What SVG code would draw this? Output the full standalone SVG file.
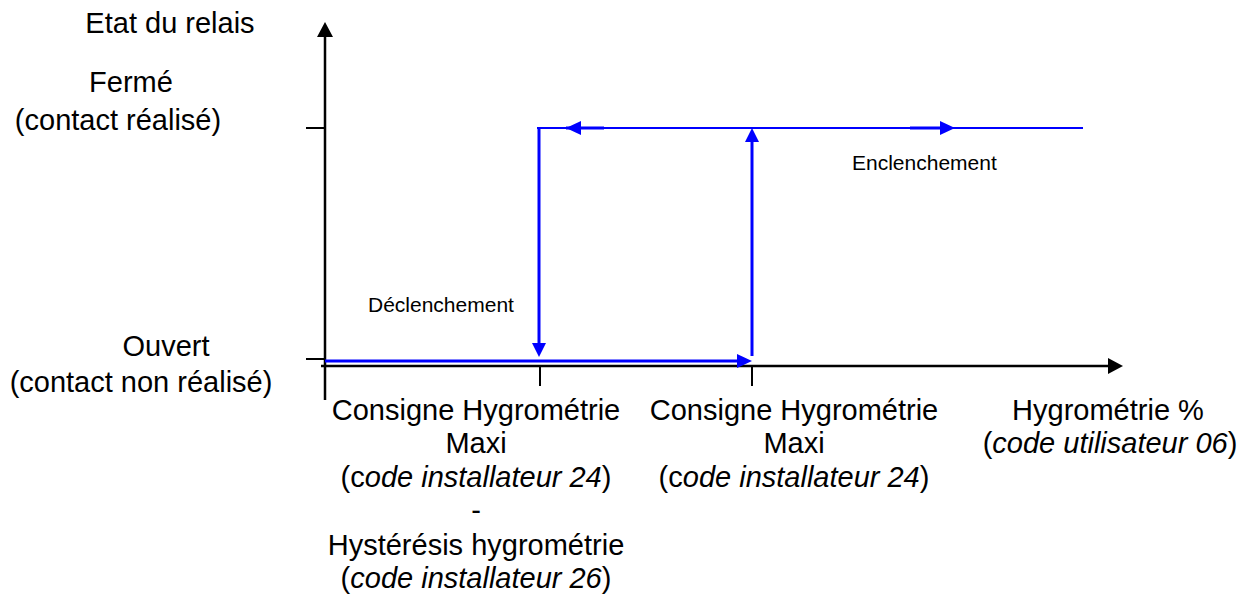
<svg xmlns="http://www.w3.org/2000/svg" width="1255" height="594" viewBox="0 0 1255 594">
<style>
text{font-family:"Liberation Sans",Arial,sans-serif;fill:#000}
.big{font-size:29px;text-anchor:middle}
.small{font-size:21px}
.ax{stroke:#000;stroke-width:2.5;fill:none}
.tk{stroke:#000;stroke-width:2;fill:none}
.bl{stroke:#0000FF;fill:none}
.ah{fill:#0000FF}
.it{font-style:italic}
</style>
<rect width="1255" height="594" fill="#fff"/>
<g id="axes">
<line class="ax" x1="325" y1="400" x2="325" y2="34"/>
<polygon points="325,22 317,37 333,37" fill="#000"/>
<line class="ax" x1="321" y1="366" x2="1110" y2="366"/>
<polygon points="1123,366 1108,358 1108,374" fill="#000"/>
<line class="tk" x1="306" y1="128" x2="325" y2="128"/>
<line class="tk" x1="306" y1="359" x2="325" y2="359"/>
<line class="tk" x1="540" y1="366" x2="540" y2="386"/>
<line class="tk" x1="752" y1="366" x2="752" y2="386"/>
</g>
<g id="connectors">
<line class="bl" stroke-width="2" x1="537" y1="128" x2="1083" y2="128"/>
<line class="bl" stroke-width="3" x1="566" y1="128" x2="604" y2="128"/>
<line class="bl" stroke-width="3" x1="910" y1="128" x2="945" y2="128"/>
<polygon class="ah" points="566,128 581,121 581,135"/>
<polygon class="ah" points="955,128 940,121 940,135"/>
<line class="bl" stroke-width="3" x1="539" y1="128" x2="539" y2="345"/>
<polygon class="ah" points="539,357 532,343 546,343"/>
<line class="bl" stroke-width="3" x1="752" y1="356" x2="752" y2="140"/>
<polygon class="ah" points="752,128 745,142 759,142"/>
<line class="bl" stroke-width="3" x1="325" y1="361" x2="740" y2="361"/>
<polygon class="ah" points="752,361 737,354 737,368"/>
</g>
<g id="label-etat"><text class="big" x="170" y="33">Etat du relais</text></g>
<g id="label-ferme">
<text class="big" x="131" y="92">Fermé</text>
<text class="big" x="118" y="130">(contact réalisé)</text>
</g>
<g id="label-ouvert">
<text class="big" x="166" y="356">Ouvert</text>
<text class="big" x="141" y="392">(contact non réalisé)</text>
</g>
<g id="label-enclenchement"><text class="small" x="852" y="170">Enclenchement</text></g>
<g id="label-declenchement"><text class="small" x="368" y="312">Déclenchement</text></g>
<g id="label-consigne-hyst">
<text class="big" x="476" y="420">Consigne Hygrométrie</text>
<text class="big" x="476" y="453">Maxi</text>
<text class="big" x="476" y="487">(c<tspan class="it">ode installateur 24</tspan>)</text>
<text class="big" x="476" y="520">-</text>
<text class="big" x="476" y="555">Hystérésis hygrométrie</text>
<text class="big" x="476" y="588">(<tspan class="it">code installateur 26</tspan>)</text>
</g>
<g id="label-consigne">
<text class="big" x="794" y="420">Consigne Hygrométrie</text>
<text class="big" x="794" y="453">Maxi</text>
<text class="big" x="794" y="487">(c<tspan class="it">ode installateur 24</tspan>)</text>
</g>
<g id="label-hygro">
<text class="big" x="1108" y="420">Hygrométrie %</text>
<text class="big" x="1110" y="453">(<tspan class="it">code utilisateur 06</tspan>)</text>
</g>
</svg>
